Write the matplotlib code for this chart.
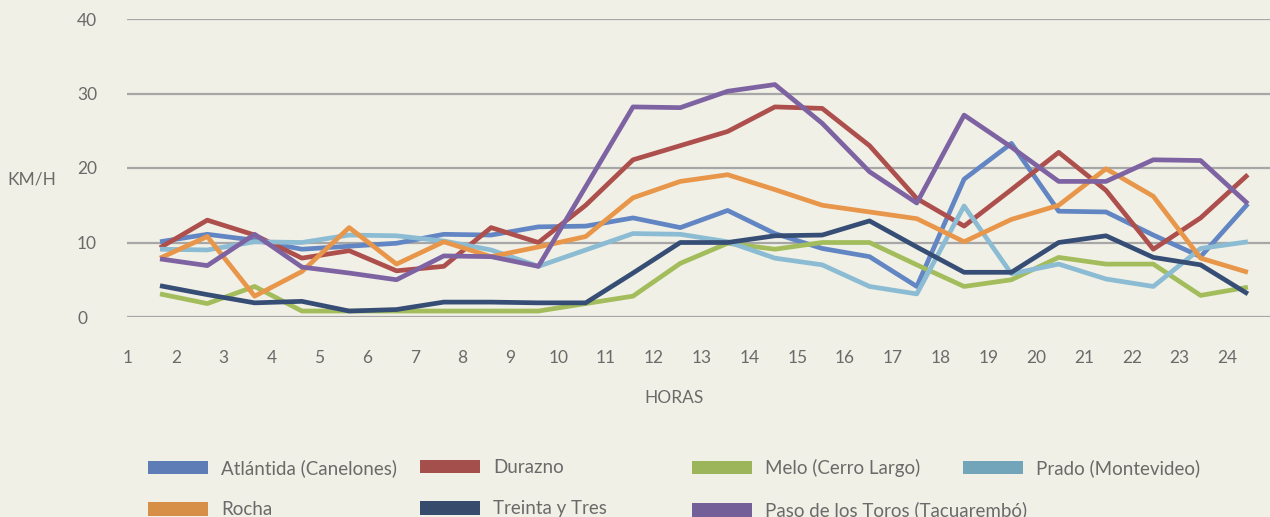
import matplotlib.pyplot as plt
from matplotlib.patches import Patch
import numpy as np

plt.rcParams['font.family'] = ['Lato', 'DejaVu Sans']

horas = list(range(1, 25))
tick_labels = [str(h) for h in horas]

atlantida = [10.1, 11.1, 10.3, 9.1, 9.5, 9.9, 11.1, 11.0, 12.1, 12.2, 13.3, 12.0,
             14.3, 11.2, 9.2, 8.1, 4.1, 18.5, 23.3, 14.2, 14.1, 11.0, 8.1, 15.2]
durazno = [9.3, 13.0, 11.0, 7.9, 8.9, 6.2, 6.8, 12.0, 10.0, 15.0, 21.1, 23.0,
           24.9, 28.2, 28.0, 23.0, 15.9, 12.2, 17.1, 22.1, 17.0, 9.1, 13.3, 19.1]
melo = [3.1, 1.8, 4.1, 0.8, 0.8, 0.8, 0.8, 0.8, 0.8, 1.8, 2.8, 7.2,
        9.9, 9.1, 10.0, 10.0, 7.0, 4.1, 5.0, 8.0, 7.1, 7.1, 2.9, 4.0]
prado = [9.1, 9.0, 10.1, 10.0, 11.0, 10.9, 10.2, 9.0, 6.8, 9.0, 11.2, 11.1,
         10.1, 7.9, 7.0, 4.1, 3.1, 14.9, 5.8, 7.1, 5.1, 4.1, 9.2, 10.1]
rocha = [7.9, 10.8, 2.8, 6.1, 12.0, 7.1, 10.1, 8.1, 9.4, 10.8, 16.0, 18.2,
         19.1, 17.1, 15.0, 14.1, 13.2, 10.1, 13.1, 15.0, 19.9, 16.2, 7.9, 6.0]
treinta = [4.2, 3.0, 1.9, 2.1, 0.8, 1.0, 2.0, 2.0, 1.9, 1.9, 5.9, 10.0,
           10.0, 10.9, 11.0, 12.9, 9.4, 6.0, 6.0, 10.0, 10.9, 8.0, 7.0, 3.1]
paso = [7.8, 6.9, 11.1, 6.7, 5.9, 5.0, 8.2, 8.1, 6.8, 17.5, 28.2, 28.1,
        30.3, 31.2, 26.0, 19.5, 15.3, 27.1, 22.8, 18.2, 18.2, 21.1, 21.0, 15.2]

series = [
    ('Atlántida (Canelones)', atlantida, '#6286c3', '#5e7db6'),
    ('Durazno', durazno, '#ad4f4c', '#a44f4c'),
    ('Melo (Cerro Largo)', melo, '#a3bd5c', '#9db55a'),
    ('Prado (Montevideo)', prado, '#8bbcd3', '#72a5b9'),
    ('Rocha', rocha, '#e8964a', '#d78f48'),
    ('Treinta y Tres', treinta, '#364e75', '#374b6d'),
    ('Paso de los Toros (Tacuarembó)', paso, '#7e63a3', '#755f98'),
]

bg = '#f1f0e6'
txt = '#6a6a6a'

fig = plt.figure(figsize=(12.7, 5.17), dpi=100, facecolor=bg)
ax = fig.add_axes([127 / 1270, 1 - 317 / 517, 1143 / 1270, 298 / 517])
ax.set_facecolor(bg)

for name, vals, col, _ in series:
    ax.plot(horas, vals, color=col, lw=3.4, solid_capstyle='butt', zorder=3)

# hour labels sit on a slightly wider spacing than the data points
tick_pos = [1 + (128 + 47.8 * (k - 1) - 160) / 47.3 for k in horas]
ax.set_xticks(tick_pos)
ax.set_xticklabels(tick_labels)
ax.set_xlim(1 - 33 / 47.3, 1 + 1110 / 47.3)
ax.set_ylim(0, 40)
ax.set_yticks([0, 10, 20, 30, 40])
ax.grid(axis='y', color='#a7a7a7', lw=1.6, zorder=1)
ax.set_axisbelow(True)
for s in ax.spines.values():
    s.set_visible(False)
ax.tick_params(axis='x', length=0, pad=24, labelsize=12.5, labelcolor=txt)
ax.tick_params(axis='y', length=0, pad=36, labelsize=12.5, labelcolor=txt)
for lab in ax.get_yticklabels():
    lab.set_horizontalalignment('left')

ax.set_ylabel('KM/H', rotation=0, fontsize=12.5, color=txt, ha='center', va='center')
ax.yaxis.set_label_coords(-0.083, 0.46)
ax.set_xlabel('HORAS', fontsize=12.5, color=txt, ha='center', va='center')
ax.xaxis.set_label_coords(0.479, -0.272)

# legend: four columns, one legend each
col_x = [148, 420, 692, 963]
for c in range(4):
    idx = [c, c + 4]
    handles = [Patch(facecolor=series[i][3], edgecolor='none') for i in idx if i < len(series)]
    labels = [series[i][0] for i in idx if i < len(series)]
    fig.legend(handles, labels, loc='upper left',
               bbox_to_anchor=(col_x[c] / 1270, 1 - 459 / 517),
               frameon=False, fontsize=13.5, labelcolor=txt,
               handlelength=3.2, handleheight=0.75, handletextpad=0.7,
               labelspacing=1.3, borderpad=0, borderaxespad=0)

fig.savefig('out.png', dpi=100, facecolor=bg)
